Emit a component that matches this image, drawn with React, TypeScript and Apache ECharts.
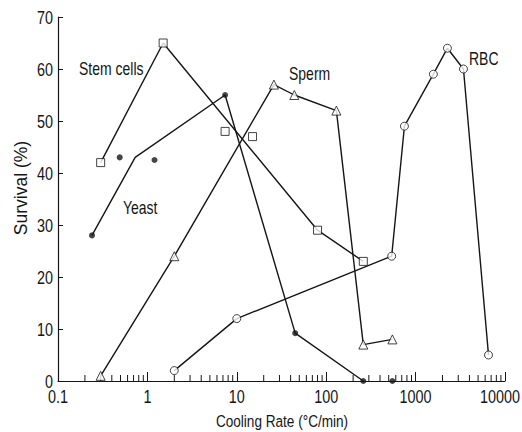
import React, { useEffect, useRef } from "react";
import * as echarts from "echarts";

const stemLine: number[][] = [[0.3, 42], [1.5, 65], [80, 29], [260, 23]];
const stemPoints: number[][] = [[0.3, 42], [1.5, 65], [7.4, 48], [15, 47], [80, 29], [260, 23]];
const yeastLine: number[][] = [[0.24, 28], [0.73, 43], [7.4, 55], [45, 9.2], [260, 0]];
const yeastPoints: number[][] = [[0.24, 28], [0.49, 43], [1.2, 42.5], [7.4, 55], [45, 9.2], [260, 0], [550, 0]];
const spermPoints: number[][] = [[0.3, 1], [2, 24], [26, 57], [44, 55], [130, 52], [260, 7], [550, 8]];
const rbcPoints: number[][] = [[2, 2], [10, 12], [540, 24], [750, 49], [1580, 59], [2270, 64], [3430, 60], [6540, 5]];
const xTicks: number[] = [0.1, 1, 10, 100, 1000, 10000];
const xTickLabels: string[] = ["0.1", "1", "10", "100", "1000", "10000"];
const yTicks: number[] = [0, 10, 20, 30, 40, 50, 60, 70];
const yTickLabels: string[] = ["0", "10", "20", "30", "40", "50", "60", "70"];
const minorTicks: number[] = [
  0.2, 0.3, 0.4, 0.5, 0.6, 0.7, 0.8, 0.9,
  2, 3, 4, 5, 6, 7, 8, 9,
  20, 30, 40, 50, 60, 70, 80, 90,
  200, 300, 400, 500, 600, 700, 800, 900,
  2000, 3000, 4000, 5000, 6000, 7000, 8000, 9000,
];

const FONT = "Liberation Sans, Arial, sans-serif";
const INK = "#151515";
const SQ = 0.8; // horizontal squeeze of the reference's lettering

export default function App() {
  const ref = useRef<HTMLDivElement>(null);
  useEffect(() => {
    if (!ref.current) return;
    const chart = echarts.init(ref.current, null, { renderer: "svg" });
    const hollow = { color: "#fff", borderColor: INK, borderWidth: 1 };
    const txt = (text: string, x: number, y: number, size: number, align = "left") => ({
      type: "text",
      x,
      y,
      scaleX: SQ,
      style: { text, fontFamily: FONT, fontSize: size, fill: INK, align, verticalAlign: "middle" },
    });
    chart.setOption({
      animation: false,
      backgroundColor: "#fff",
      grid: { left: 58, right: 17, top: 17, bottom: 51 },
      xAxis: {
        type: "log",
        logBase: 10,
        min: 0.1,
        max: 10000,
        axisLine: { lineStyle: { color: INK, width: 1.2 } },
        axisTick: { inside: true, length: 9, lineStyle: { color: INK } },
        axisLabel: { show: false },
        splitLine: { show: false },
        minorTick: { show: false },
      },
      yAxis: {
        type: "value",
        min: 0,
        max: 70,
        interval: 10,
        axisLine: { show: true, lineStyle: { color: INK, width: 1.2 } },
        axisTick: { show: true, inside: true, length: 5, lineStyle: { color: INK } },
        axisLabel: { show: false },
        splitLine: { show: false },
      },
      series: [
        {
          type: "custom",
          data: minorTicks.map((v) => [v, 0]),
          encode: { x: 0, y: 1 },
          silent: true,
          clip: false,
          z: 1,
          renderItem: (_p: any, api: any) => {
            const pt = api.coord([api.value(0), 0]);
            return {
              type: "line",
              shape: { x1: pt[0], y1: pt[1], x2: pt[0], y2: pt[1] - 6 },
              style: { stroke: INK, lineWidth: 1 },
            };
          },
        },
        {
          type: "custom",
          data: xTicks.map((v, i) => [v, 0, i]),
          encode: { x: 0, y: 1 },
          silent: true,
          clip: false,
          z: 1,
          renderItem: (_p: any, api: any) => {
            const pt = api.coord([api.value(0), 0]);
            const label = xTickLabels[api.value(2)];
            const half = (label.length * 0.556 * 18 * SQ) / 2;
            if (pt[0] + half > 520) return txt(label, 520, pt[1] + 15, 18, "right");
            return txt(label, pt[0], pt[1] + 15, 18, "center");
          },
        },
        {
          type: "custom",
          data: yTicks.map((v, i) => [0.1, v, i]),
          encode: { x: 0, y: 1 },
          silent: true,
          clip: false,
          z: 1,
          renderItem: (_p: any, api: any) => {
            const pt = api.coord([api.value(0), api.value(1)]);
            return txt(yTickLabels[api.value(2)], pt[0] - 5, pt[1], 18, "right");
          },
        },
        { type: "line", data: stemLine, symbol: "none", lineStyle: { color: INK, width: 1.4 }, clip: false, z: 2 },
        { type: "line", data: yeastLine, symbol: "none", lineStyle: { color: INK, width: 1.4 }, clip: false, z: 2 },
        { type: "line", data: spermPoints, symbol: "none", lineStyle: { color: INK, width: 1.4 }, clip: false, z: 2 },
        { type: "line", data: rbcPoints, symbol: "none", lineStyle: { color: INK, width: 1.4 }, clip: false, z: 2 },
        { type: "scatter", data: stemPoints, symbol: "rect", symbolSize: 8, itemStyle: hollow, clip: false, z: 3 },
        { type: "scatter", data: yeastPoints, symbol: "circle", symbolSize: 6, itemStyle: { color: INK }, clip: false, z: 3 },
        { type: "scatter", data: spermPoints, symbol: "triangle", symbolSize: 9, itemStyle: hollow, clip: false, z: 3 },
        { type: "scatter", data: rbcPoints, symbol: "circle", symbolSize: 8, itemStyle: hollow, clip: false, z: 3 },
      ],
      graphic: [
        txt("Stem cells", 79, 69, 17.5),
        txt("Yeast", 123, 208, 17.5),
        txt("Sperm", 289, 74, 17.5),
        txt("RBC", 469, 59, 17.5),
        txt("Cooling Rate (°C/min)", 282, 421, 17, "center"),
        {
          type: "text",
          x: 21,
          y: 188,
          rotation: Math.PI / 2,
          style: { text: "Survival (%)", fontFamily: FONT, fontSize: 17.5, fill: INK, align: "center", verticalAlign: "middle" },
        },
      ],
    });
    return () => chart.dispose();
  }, []);
  return <div ref={ref} style={{ width: 522, height: 432, position: "absolute", left: 0, top: 0 }} />;
}
